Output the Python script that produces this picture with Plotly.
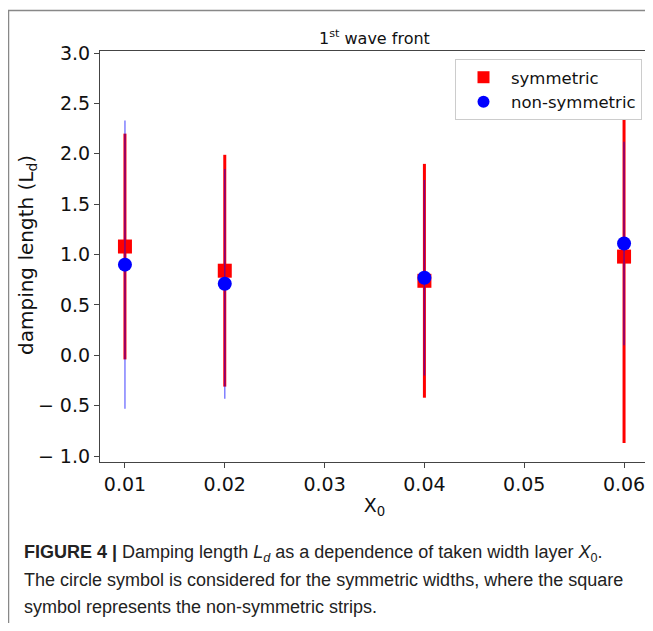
import plotly.graph_objects as go

# ---- data ----
x0_vals = [0.01, 0.02, 0.04, 0.06]
sym_vals = [1.08, 0.84, 0.74, 0.98]
sym_err = [1.12, 1.15, 1.16, 1.85]
nonsym_vals = [0.90, 0.71, 0.77, 1.11]
nonsym_err = [1.43, 1.14, 0.97, 1.01]
x_ticks = [0.01, 0.02, 0.03, 0.04, 0.05, 0.06]
x_ticktext = ["0.01", "0.02", "0.03", "0.04", "0.05", "0.06"]
y_ticks = [-1.0, -0.5, 0.0, 0.5, 1.0, 1.5, 2.0, 2.5, 3.0]
y_ticktext = ["\u2212 1.0", "\u2212 0.5", "0.0", "0.5", "1.0", "1.5", "2.0", "2.5", "3.0"]

# page body has an 8px margin; work in screen coordinates and convert
OX, OY = 8, 8
W, H = 645, 615
SL, SR, ST, SB = 100, 649, 51, 462          # plot area in screen px
L = SL - OX
R = W - (SR - OX)
T = ST - OY
B = H - (SB - OY)
PW, PH = W - L - R, H - T - B


def px(xs):
    return (xs - SL) / PW


def py(ys):
    return (SB - ys) / PH


FONT = "DejaVu Sans, sans-serif"
CAPFONT = "Liberation Sans, Arial, sans-serif"

fig = go.Figure()
fig.add_trace(go.Scatter(
    x=x0_vals, y=sym_vals, mode="markers", name="symmetric",
    marker=dict(symbol="square", size=14, color="#ff0000"),
    error_y=dict(type="data", array=sym_err, visible=True, color="#ff0000",
                 thickness=3, width=0),
))
fig.add_trace(go.Scatter(
    x=x0_vals, y=nonsym_vals, mode="markers", name="non-symmetric",
    marker=dict(symbol="circle", size=14, color="#0000ff"),
    error_y=dict(type="data", array=nonsym_err, visible=True,
                 color="rgba(0,0,255,0.5)", thickness=1.5, width=0),
))

axis_common = dict(
    showline=True, linecolor="#444444", linewidth=1.2, mirror=True,
    ticks="outside", ticklen=5, tickwidth=1, tickcolor="#444444",
    showgrid=False, zeroline=False, automargin=False,
    tickfont=dict(family=FONT, size=19, color="#111111"),
)

fig.update_layout(
    width=W, height=H,
    margin=dict(l=L, r=R, t=T, b=B, autoexpand=False),
    paper_bgcolor="white", plot_bgcolor="white",
    showlegend=True,
    legend=dict(
        x=px(642), y=py(59), xanchor="right", yanchor="top",
        bgcolor="white", bordercolor="#cccccc", borderwidth=1,
        font=dict(family=FONT, size=16.5, color="#111111"),
        itemsizing="constant", itemwidth=45, tracegroupgap=0,
    ),
    xaxis=dict(
        range=[0.0075, 0.0625], tickvals=x_ticks, ticktext=x_ticktext,
        title=dict(text="X<sub>0</sub>", font=dict(family=FONT, size=19, color="#111111"),
                   standoff=4),
        **axis_common,
    ),
    yaxis=dict(
        range=[-1.058, 3.02], tickvals=y_ticks, ticktext=y_ticktext,
        **axis_common,
    ),
)

# y-axis title
fig.add_annotation(
    x=px(27), y=py(255), xref="paper", yref="paper", showarrow=False,
    text="damping length (L<sub>d</sub>)", textangle=-90,
    xanchor="center", yanchor="middle",
    font=dict(family=FONT, size=20, color="#111111"),
)

# plot title
fig.add_annotation(
    x=0.5, y=py(37), xref="paper", yref="paper", showarrow=False,
    text="1<sup>st</sup> wave front", xanchor="center", yanchor="middle",
    font=dict(family=FONT, size=16, color="#111111"),
)

# figure frame
fig.add_shape(
    type="rect", xref="paper", yref="paper",
    x0=px(8.5), x1=px(700), y0=py(700), y1=py(10.5),
    line=dict(color="#888888", width=1.5), fillcolor="rgba(0,0,0,0)", layer="below",
)

cap_font = dict(family=CAPFONT, size=18, color="#222222")
captions = [
    "<b>FIGURE 4 |</b> Damping length <i>L<sub>d</sub></i> as a dependence of taken width layer <i>X</i><sub>0</sub>.",
    "The circle symbol is considered for the symmetric widths, where the square",
    "symbol represents the non-symmetric strips.",
]
cap_y = [553, 580, 607]
for txt, yy in zip(captions, cap_y):
    fig.add_annotation(
        x=px(22), y=py(yy), xref="paper", yref="paper", showarrow=False,
        text=txt, xanchor="left", yanchor="middle", align="left", font=cap_font,
    )

fig.write_html("out.html")
